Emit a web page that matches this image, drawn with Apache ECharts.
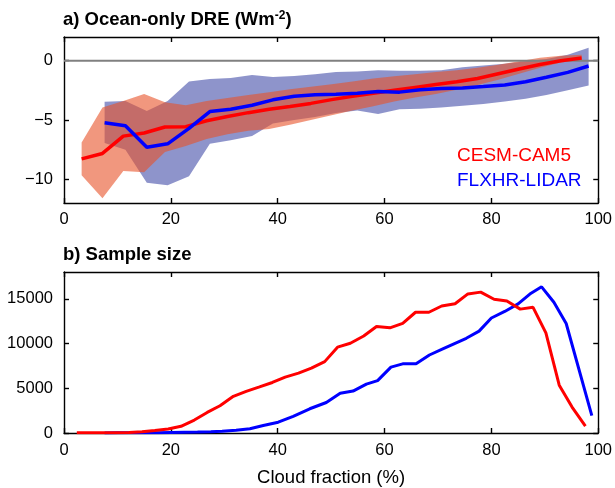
<!DOCTYPE html>
<html>
<head>
<meta charset="utf-8">
<script src="https://cdn.jsdelivr.net/npm/echarts@6/dist/echarts.min.js"></script>
<style>
  html, body { margin: 0; background: #fff; }
  #chart { width: 615px; height: 488px; }
</style>
</head>
<body>
<div id="chart"></div>
<script>
// panel a: DRE vs cloud fraction
const camX = [3.3, 7.2, 11.1, 15.0, 18.9, 22.8, 26.7, 30.6, 34.5, 38.4, 42.3, 46.2, 50.1, 54.0, 57.9, 61.8, 65.7, 69.6, 73.5, 77.4, 81.3, 85.2, 89.1, 93.0, 96.9]
const camDre = [-8.28, -7.82, -6.36, -6.1, -5.59, -5.56, -5.06, -4.7, -4.38, -4.1, -3.87, -3.6, -3.28, -3.0, -2.75, -2.5, -2.25, -2.0, -1.78, -1.5, -1.1, -0.7, -0.32, 0.0, 0.22]
const camHi = [-6.9, -3.95, -3.4, -2.8, -3.5, -3.75, -3.4, -3.15, -2.9, -2.65, -2.4, -2.2, -1.98, -1.75, -1.5, -1.32, -1.15, -0.95, -0.8, -0.6, -0.35, -0.05, 0.25, 0.42, 0.5]
const camLo = [-9.65, -11.6, -9.3, -9.4, -7.7, -7.2, -6.6, -6.2, -5.9, -5.75, -5.4, -5.0, -4.6, -4.2, -3.85, -3.45, -3.1, -2.8, -2.45, -2.05, -1.6, -1.1, -0.6, -0.15, 0.05]

const lidX = [7.6, 11.5, 15.5, 19.4, 23.4, 27.3, 31.2, 35.2, 39.1, 43.1, 47.0, 50.9, 54.9, 58.8, 62.8, 66.7, 70.6, 74.6, 78.5, 82.5, 86.4, 90.3, 94.3, 98.2]
const lidDre = [-5.23, -5.48, -7.29, -7.01, -5.71, -4.29, -4.1, -3.76, -3.3, -3.0, -2.88, -2.82, -2.75, -2.6, -2.65, -2.45, -2.35, -2.3, -2.18, -2.05, -1.78, -1.4, -0.98, -0.45]
const lidHi = [-3.47, -3.39, -4.24, -3.4, -1.75, -1.55, -1.45, -1.2, -1.38, -1.28, -1.15, -0.96, -0.9, -0.8, -0.85, -0.85, -0.8, -0.55, -0.4, -0.25, -0.05, 0.15, 0.5, 1.1]
const lidLo = [-6.95, -7.5, -10.3, -10.5, -9.75, -7.0, -6.7, -6.35, -5.3, -5.0, -4.75, -4.4, -4.2, -4.5, -4.1, -4.05, -3.95, -3.8, -3.65, -3.45, -3.2, -2.9, -2.5, -2.1]

// panel b: sample size
const camNx = [2.4, 4.8, 7.3, 9.7, 12.2, 14.6, 17.0, 19.5, 21.9, 24.4, 26.8, 29.2, 31.7, 34.1, 36.6, 39.0, 41.4, 43.9, 46.3, 48.8, 51.2, 53.6, 56.1, 58.5, 61.0, 63.4, 65.8, 68.3, 70.7, 73.2, 75.6, 78.0, 80.5, 82.9, 85.4, 87.8, 90.2, 92.7, 95.1, 97.6]
const camN = [20, 25, 30, 40, 60, 130, 280, 450, 750, 1450, 2300, 3050, 4100, 4650, 5150, 5650, 6250, 6700, 7250, 7980, 9600, 10030, 10840, 11900, 11760, 12250, 13500, 13500, 14200, 14450, 15550, 15750, 14950, 14750, 13850, 14050, 11200, 5350, 2900, 770]
const lidNx = [7.6, 10.0, 12.5, 15.0, 17.5, 20.0, 22.5, 25.0, 27.5, 29.6, 32.2, 34.8, 37.3, 40.1, 42.9, 46.0, 49.1, 51.7, 54.1, 56.6, 58.7, 61.2, 63.4, 65.9, 68.4, 70.9, 73.1, 75.3, 77.7, 80.0, 82.5, 85.0, 87.2, 89.4, 91.7, 94.0, 98.8]
const lidN = [10, 15, 20, 30, 40, 60, 80, 100, 130, 200, 320, 480, 840, 1210, 1870, 2710, 3410, 4440, 4690, 5460, 5860, 7370, 7730, 7730, 8720, 9400, 10000, 10590, 11390, 12860, 13590, 14430, 15530, 16340, 14620, 12240, 1940]

const dreTicks = [-10, -5, 0]
const nTicks = [0, 5000, 10000, 15000]
const xTicks = [0, 20, 40, 60, 80, 100]

const FONT = 'Liberation Sans'
const pairs = (xs, ys) => xs.map((x, i) => [x, ys[i]])

function band(xs, hi, lo, fill) {
  return {
    type: 'custom',
    xAxisIndex: 0,
    yAxisIndex: 0,
    silent: true,
    data: [[xs[0], hi[0]]],
    renderItem: (params, api) => {
      const pts = []
      xs.forEach((x, i) => pts.push(api.coord([x, hi[i]])))
      for (let i = xs.length - 1; i >= 0; i--) pts.push(api.coord([xs[i], lo[i]]))
      return { type: 'polygon', shape: { points: pts }, style: { fill: fill } }
    }
  }
}

const minus = v => String(v).replace('-', '\u2212')

function xAxes(grid, labels) {
  return [
    {
      type: 'value', gridIndex: grid, min: 0, max: 100, position: 'bottom',
      axisLine: { onZero: false, lineStyle: { color: '#000', width: 1.4 } },
      axisTick: { inside: true, length: 5, customValues: xTicks, lineStyle: { color: '#000', width: 1.4 } },
      axisLabel: { customValues: xTicks, color: '#000', fontSize: 16.5, fontFamily: FONT, margin: labels ? 9 : 8 },
      splitLine: { show: false },
      name: labels ? 'Cloud fraction (%)' : '',
      nameLocation: 'middle', nameGap: 35,
      nameTextStyle: { color: '#000', fontSize: 18.5, fontFamily: FONT }
    },
    {
      type: 'value', gridIndex: grid, min: 0, max: 100, position: 'top',
      axisLine: { onZero: false, lineStyle: { color: '#000', width: 1.4 } },
      axisTick: { inside: true, length: 5, customValues: xTicks, lineStyle: { color: '#000', width: 1.4 } },
      axisLabel: { show: false },
      splitLine: { show: false }
    }
  ]
}

function yAxes(grid, min, max, ticks, fmt) {
  const base = {
    type: 'value', gridIndex: grid, min: min, max: max,
    axisLine: { show: true, onZero: false, lineStyle: { color: '#000', width: 1.4 } },
    axisTick: { show: true, inside: true, length: 5, customValues: ticks, lineStyle: { color: '#000', width: 1.4 } },
    splitLine: { show: false }
  }
  return [
    Object.assign({}, base, { position: 'left',
      axisLabel: { customValues: ticks, formatter: fmt, color: '#000', fontSize: 16.5, fontFamily: FONT, margin: 11 } }),
    Object.assign({}, base, { position: 'right', axisLabel: { show: false } })
  ]
}

const chart = echarts.init(document.getElementById('chart'), null, { renderer: 'canvas' })

chart.setOption({
  animation: false,
  backgroundColor: '#fff',
  textStyle: { fontFamily: FONT },
  title: [
    {
      text: '{t|a) Ocean-only DRE (Wm}{s|-2}{t|)}',
      left: 58, top: 5,
      textStyle: { rich: {
        t: { fontSize: 18.5, fontWeight: 'bold', fontFamily: FONT, color: '#000' },
        s: { fontSize: 12, fontWeight: 'bold', fontFamily: FONT, color: '#000', verticalAlign: 'top', padding: [0, 0, 8, 0] }
      } }
    },
    {
      text: 'b) Sample size', left: 58, top: 240,
      textStyle: { fontSize: 18.5, fontWeight: 'bold', fontFamily: FONT, color: '#000' }
    }
  ],
  legend: {
    orient: 'vertical', left: 447, top: 141, itemGap: 6,
    itemWidth: 0, itemHeight: 0, selectedMode: false,
    data: [
      { name: 'CESM-CAM5', icon: 'none', textStyle: { color: '#ff0000', fontSize: 19, fontFamily: FONT } },
      { name: 'FLXHR-LIDAR', icon: 'none', textStyle: { color: '#0000ff', fontSize: 19, fontFamily: FONT } }
    ]
  },
  grid: [
    { left: 64, top: 37, width: 535, height: 166 },
    { left: 64, top: 272, width: 535, height: 165 }
  ],
  xAxis: [...xAxes(0, false), ...xAxes(1, true)],
  yAxis: [...yAxes(0, -12, 2, dreTicks, minus), ...yAxes(1, 0, 18000, nTicks, v => String(v))],
  series: [
    {
      type: 'line', xAxisIndex: 0, yAxisIndex: 0, silent: true,
      data: [[0, 0], [100, 0]], showSymbol: false,
      lineStyle: { color: '#808080', width: 2 }
    },
    band(lidX, lidHi, lidLo, 'rgba(60,70,165,0.58)'),
    band(camX, camHi, camLo, 'rgba(232,82,40,0.6)'),
    {
      name: 'CESM-CAM5', type: 'line', xAxisIndex: 0, yAxisIndex: 0,
      data: pairs(camX, camDre), showSymbol: false,
      lineStyle: { color: '#ff0000', width: 3.5 }, itemStyle: { color: '#ff0000' }
    },
    {
      name: 'FLXHR-LIDAR', type: 'line', xAxisIndex: 0, yAxisIndex: 0,
      data: pairs(lidX, lidDre), showSymbol: false,
      lineStyle: { color: '#0000ff', width: 3.5 }, itemStyle: { color: '#0000ff' }
    },
    {
      type: 'line', xAxisIndex: 2, yAxisIndex: 2,
      data: pairs(lidNx, lidN), showSymbol: false,
      lineStyle: { color: '#0000ff', width: 3 }
    },
    {
      type: 'line', xAxisIndex: 2, yAxisIndex: 2,
      data: pairs(camNx, camN), showSymbol: false,
      lineStyle: { color: '#ff0000', width: 3 }
    }
  ]
})
</script>
</body>
</html>
